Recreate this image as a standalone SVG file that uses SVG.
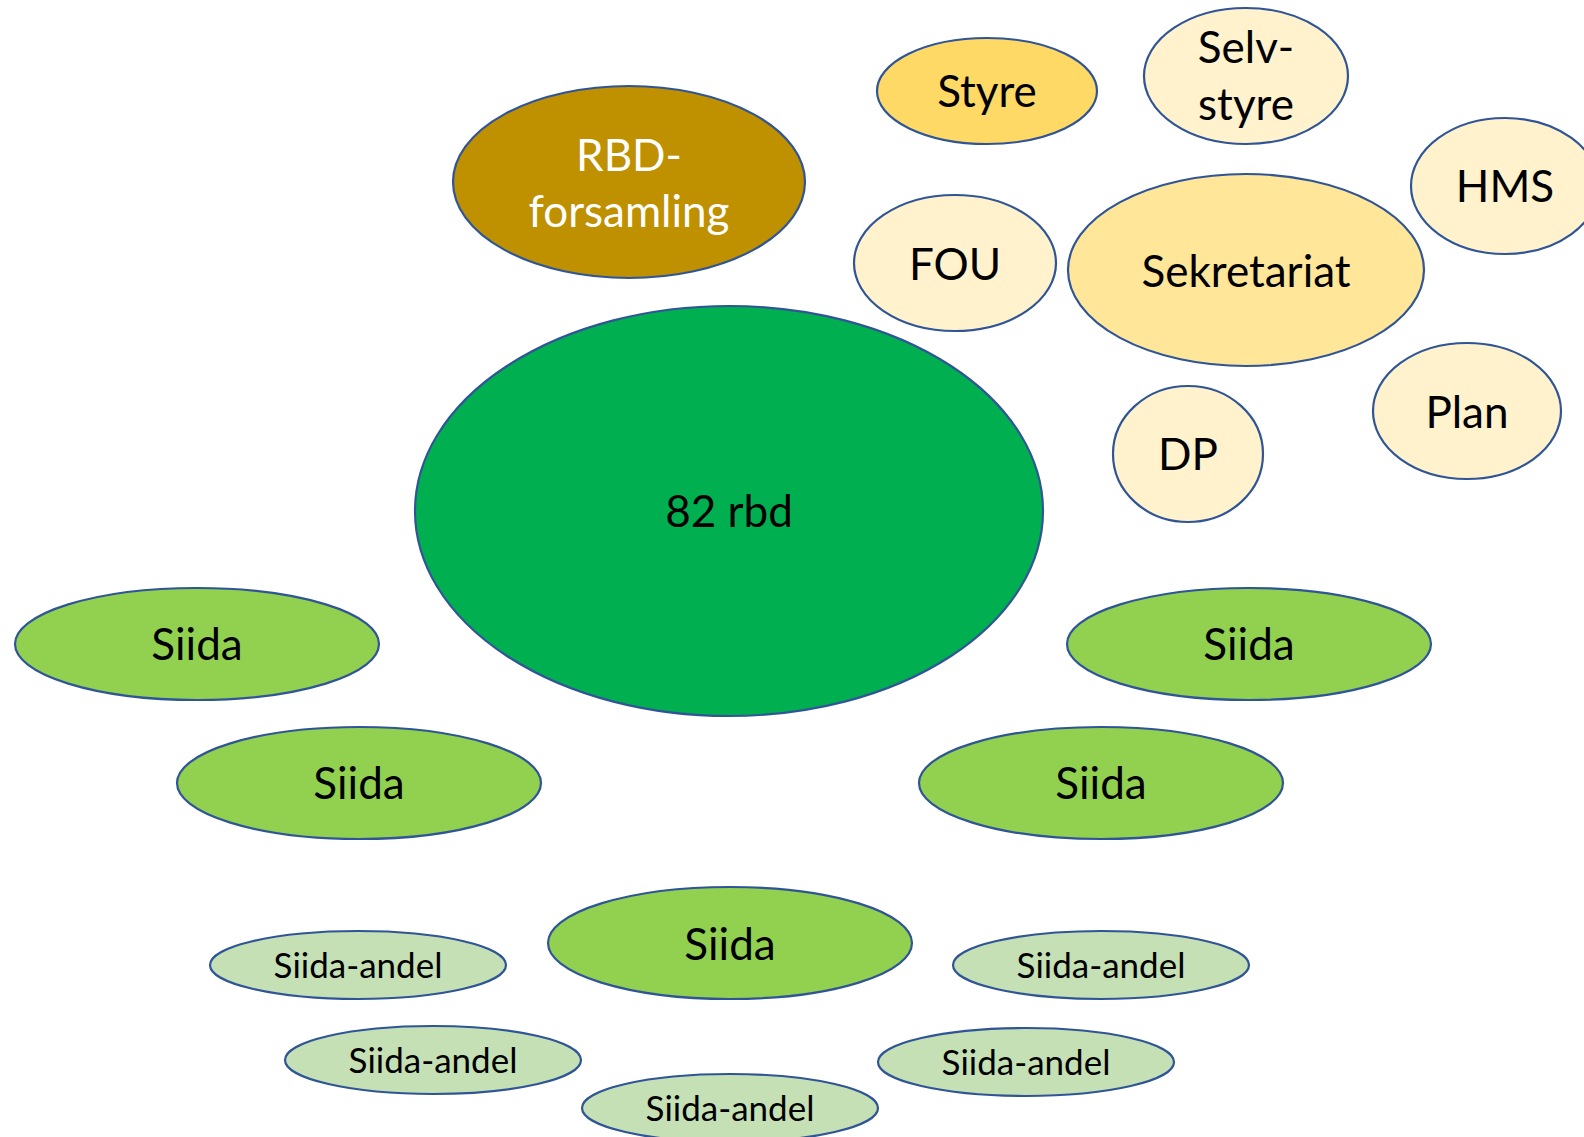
<svg xmlns="http://www.w3.org/2000/svg" width="1584" height="1137" viewBox="0 0 1584 1137">
<style>
ellipse{stroke:#2F5597;stroke-width:2.2}
text{font-family:Lato,"Open Sans","Noto Sans",sans-serif;text-anchor:middle;fill:#000}
.b{font-size:44px}
.s{font-size:35px}
.w{fill:#FFFFFF}
.gold{fill:#BF9000}
.styre{fill:#FFD966}
.pale{fill:#FFF2CC}
.sek{fill:#FFE699}
.main{fill:#00B050}
.siida{fill:#92D050}
.andel{fill:#C5E0B4}
</style>
<rect width="1584" height="1137" fill="#FFFFFF"/>
<g id="connectors"></g>
<g id="rbd-forsamling"><ellipse class="gold" cx="629" cy="182" rx="176" ry="96"/><text class="b w" x="629" y="171">RBD-</text><text class="b w" x="629" y="227">forsamling</text></g>
<g id="styre"><ellipse class="styre" cx="987" cy="91" rx="110" ry="53"/><text class="b" x="987" y="107">Styre</text></g>
<g id="selvstyre"><ellipse class="pale" cx="1246" cy="76" rx="102" ry="68"/><text class="b" x="1246" y="63">Selv-</text><text class="b" x="1246" y="120">styre</text></g>
<g id="hms"><ellipse class="pale" cx="1505" cy="186" rx="94" ry="68"/><text class="b" x="1505" y="202">HMS</text></g>
<g id="fou"><ellipse class="pale" cx="955" cy="263" rx="101" ry="68"/><text class="b" x="955" y="280">FOU</text></g>
<g id="sekretariat"><ellipse class="sek" cx="1246" cy="270" rx="178" ry="96"/><text class="b" x="1246" y="287">Sekretariat</text></g>
<g id="plan"><ellipse class="pale" cx="1467" cy="411" rx="94" ry="68"/><text class="b" x="1467" y="428">Plan</text></g>
<g id="dp"><ellipse class="pale" cx="1188" cy="454" rx="75" ry="68"/><text class="b" x="1188" y="470">DP</text></g>
<g id="rbd82"><ellipse class="main" cx="729" cy="511" rx="314" ry="205"/><text class="b" x="729" y="527">82 rbd</text></g>
<g id="siida1"><ellipse class="siida" cx="197" cy="644" rx="182" ry="56"/><text class="b" x="197" y="660">Siida</text></g>
<g id="siida2"><ellipse class="siida" cx="1249" cy="644" rx="182" ry="56"/><text class="b" x="1249" y="660">Siida</text></g>
<g id="siida3"><ellipse class="siida" cx="359" cy="783" rx="182" ry="56"/><text class="b" x="359" y="799">Siida</text></g>
<g id="siida4"><ellipse class="siida" cx="1101" cy="783" rx="182" ry="56"/><text class="b" x="1101" y="799">Siida</text></g>
<g id="siida5"><ellipse class="siida" cx="730" cy="943" rx="182" ry="56"/><text class="b" x="730" y="960">Siida</text></g>
<g id="andel1"><ellipse class="andel" cx="358" cy="965" rx="148" ry="34"/><text class="s" x="358" y="978">Siida-andel</text></g>
<g id="andel2"><ellipse class="andel" cx="433" cy="1060" rx="148" ry="34"/><text class="s" x="433" y="1073">Siida-andel</text></g>
<g id="andel3"><ellipse class="andel" cx="730" cy="1108" rx="148" ry="34"/><text class="s" x="730" y="1121">Siida-andel</text></g>
<g id="andel4"><ellipse class="andel" cx="1101" cy="965" rx="148" ry="34"/><text class="s" x="1101" y="978">Siida-andel</text></g>
<g id="andel5"><ellipse class="andel" cx="1026" cy="1062" rx="148" ry="34"/><text class="s" x="1026" y="1075">Siida-andel</text></g>
</svg>
